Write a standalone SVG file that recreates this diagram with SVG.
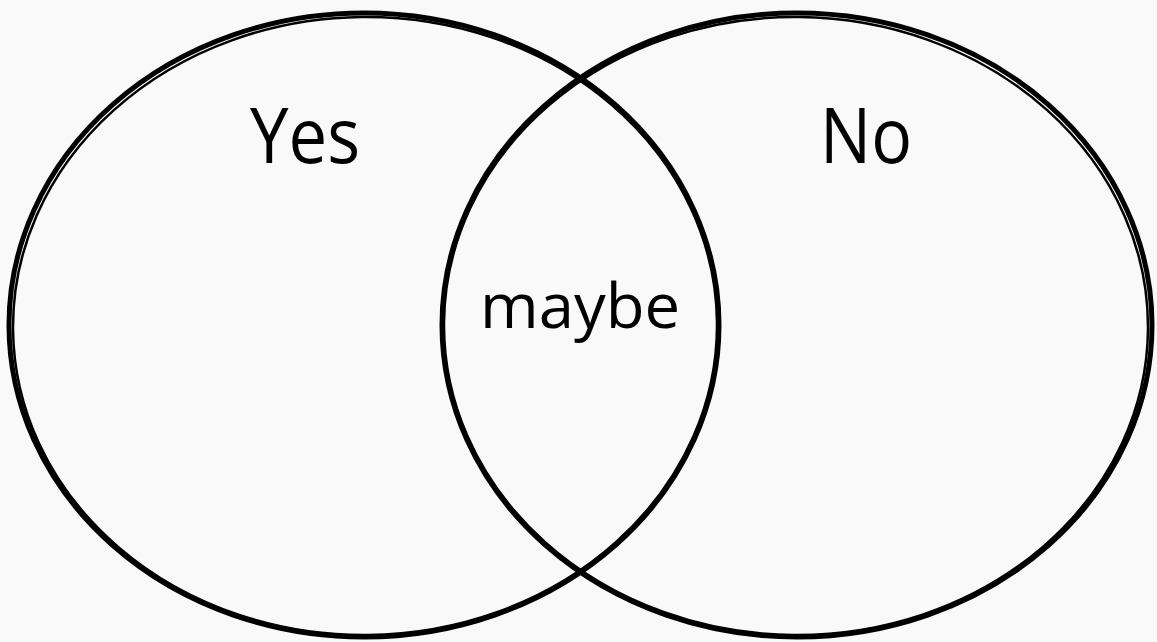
<svg xmlns="http://www.w3.org/2000/svg" width="1157" height="642" viewBox="0 0 1157 642">
<style>
.bg{fill:#f9f9f9}
.ring{fill:none;stroke:#000;stroke-width:5}
.ring2{fill:none;stroke:#000;stroke-width:2.5}
.lbl{font-family:"Open Sans","Liberation Sans",sans-serif;fill:#000;text-anchor:middle}
</style>
<rect class="bg" x="0" y="0" width="1157" height="642"/>
<g id="connectors"></g>
<g id="yes">
<ellipse class="ring" cx="364" cy="325" rx="355" ry="312"/>
<ellipse class="ring2" cx="365" cy="326" rx="352" ry="309" transform="rotate(-0.6 364 325)"/>
<text class="lbl" x="305" y="163" font-size="76" textLength="110" lengthAdjust="spacingAndGlyphs">Yes</text>
</g>
<g id="no">
<ellipse class="ring" cx="797" cy="325" rx="355" ry="312"/>
<ellipse class="ring2" cx="796" cy="326" rx="352" ry="309" transform="rotate(0.6 797 325)"/>
<text class="lbl" x="866" y="163" font-size="76" textLength="92" lengthAdjust="spacingAndGlyphs">No</text>
</g>
<g id="maybe">
<text class="lbl" x="580" y="328" font-size="62" textLength="200" lengthAdjust="spacingAndGlyphs">maybe</text>
</g>
</svg>
